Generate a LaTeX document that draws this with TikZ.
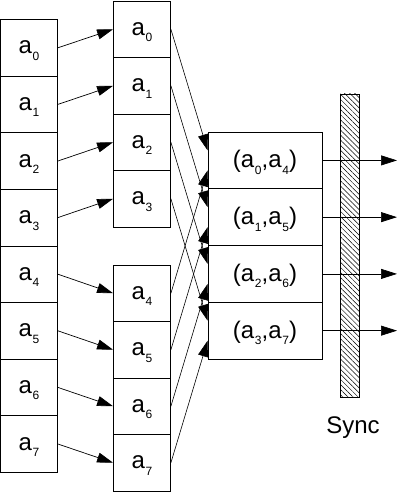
\documentclass[tikz,border=0pt]{standalone}
\usepackage{fontspec}
\setmainfont{Liberation Sans}
\usetikzlibrary{arrows.meta,patterns.meta}
\newcommand{\ixsub}[1]{\kern0.8pt\raisebox{-6.5pt}{\fontsize{12}{12}\selectfont #1}}
\begin{document}
\begin{tikzpicture}[x=1pt,y=-1pt,
  cell/.style={draw, line width=0.8pt, inner sep=0pt, minimum width=57pt, minimum height=56.6pt,
    font=\fontsize{24}{28}\selectfont, text height=12pt, text depth=0pt},
  pcell/.style={cell, minimum width=114pt, minimum height=56.75pt, text height=15pt},
  arr/.style={line width=0.7pt, -{Triangle[length=16pt,width=10pt]}},
  xarr/.style={line width=0.6pt, -{Triangle[length=16pt,width=10pt]}},
  syncbar/.style={draw, line width=0.8pt, fill=white,
    pattern={Lines[angle=-45,distance=3.6pt,line width=0.5pt]}, minimum width=19pt, minimum height=303pt, inner sep=0pt},
  lbl/.style={font=\fontsize{24}{28}\selectfont, inner sep=0pt}]
\useasboundingbox (0,0) rectangle (413,492);
% left column
\foreach \i in {0,...,7} {
  \node[cell] (l\i) at (29, 47.8+56.6*\i) {a\ixsub{\i}};
}
% middle columns
\foreach \i in {0,...,3} {
  \node[cell, minimum height=56.5pt] (m\i) at (142, 29.25+56.5*\i) {a\ixsub{\i}};
}
\foreach \i/\j in {4/0,5/1,6/2,7/3} {
  \node[cell, minimum height=56.5pt] (m\i) at (142, 293.25+56.5*\j) {a\ixsub{\i}};
}
% sync bar
\node[syncbar] (sync) at (349.5, 245.5) {};
\node[lbl, anchor=base] (synclbl) at (353, 433) {Sync};
% right column
\foreach \i/\j in {0/4,1/5,2/6,3/7} {
  \node[pcell] (r\i) at (265, 160.4+56.75*\i) {(a\ixsub{\i},a\ixsub{\j})};
}
% arrows left -> middle
\foreach \i in {0,...,7} {
  \draw[arr] (l\i.east) -- (m\i.west);
}
% cross arrows
\foreach \i/\j in {0/4,1/5,2/6,3/7} {
  \draw[xarr] (m\i.east) -- ([yshift=10pt]r\i.west);
  \draw[xarr] (m\j.east) -- ([yshift=-10pt]r\i.west);
}
% outputs
\foreach \i in {0,...,3} {
  \coordinate (o\i) at (397, 160.4+56.75*\i);
  \draw[arr] (r\i.east) -- (o\i);
}
\end{tikzpicture}
\end{document}
